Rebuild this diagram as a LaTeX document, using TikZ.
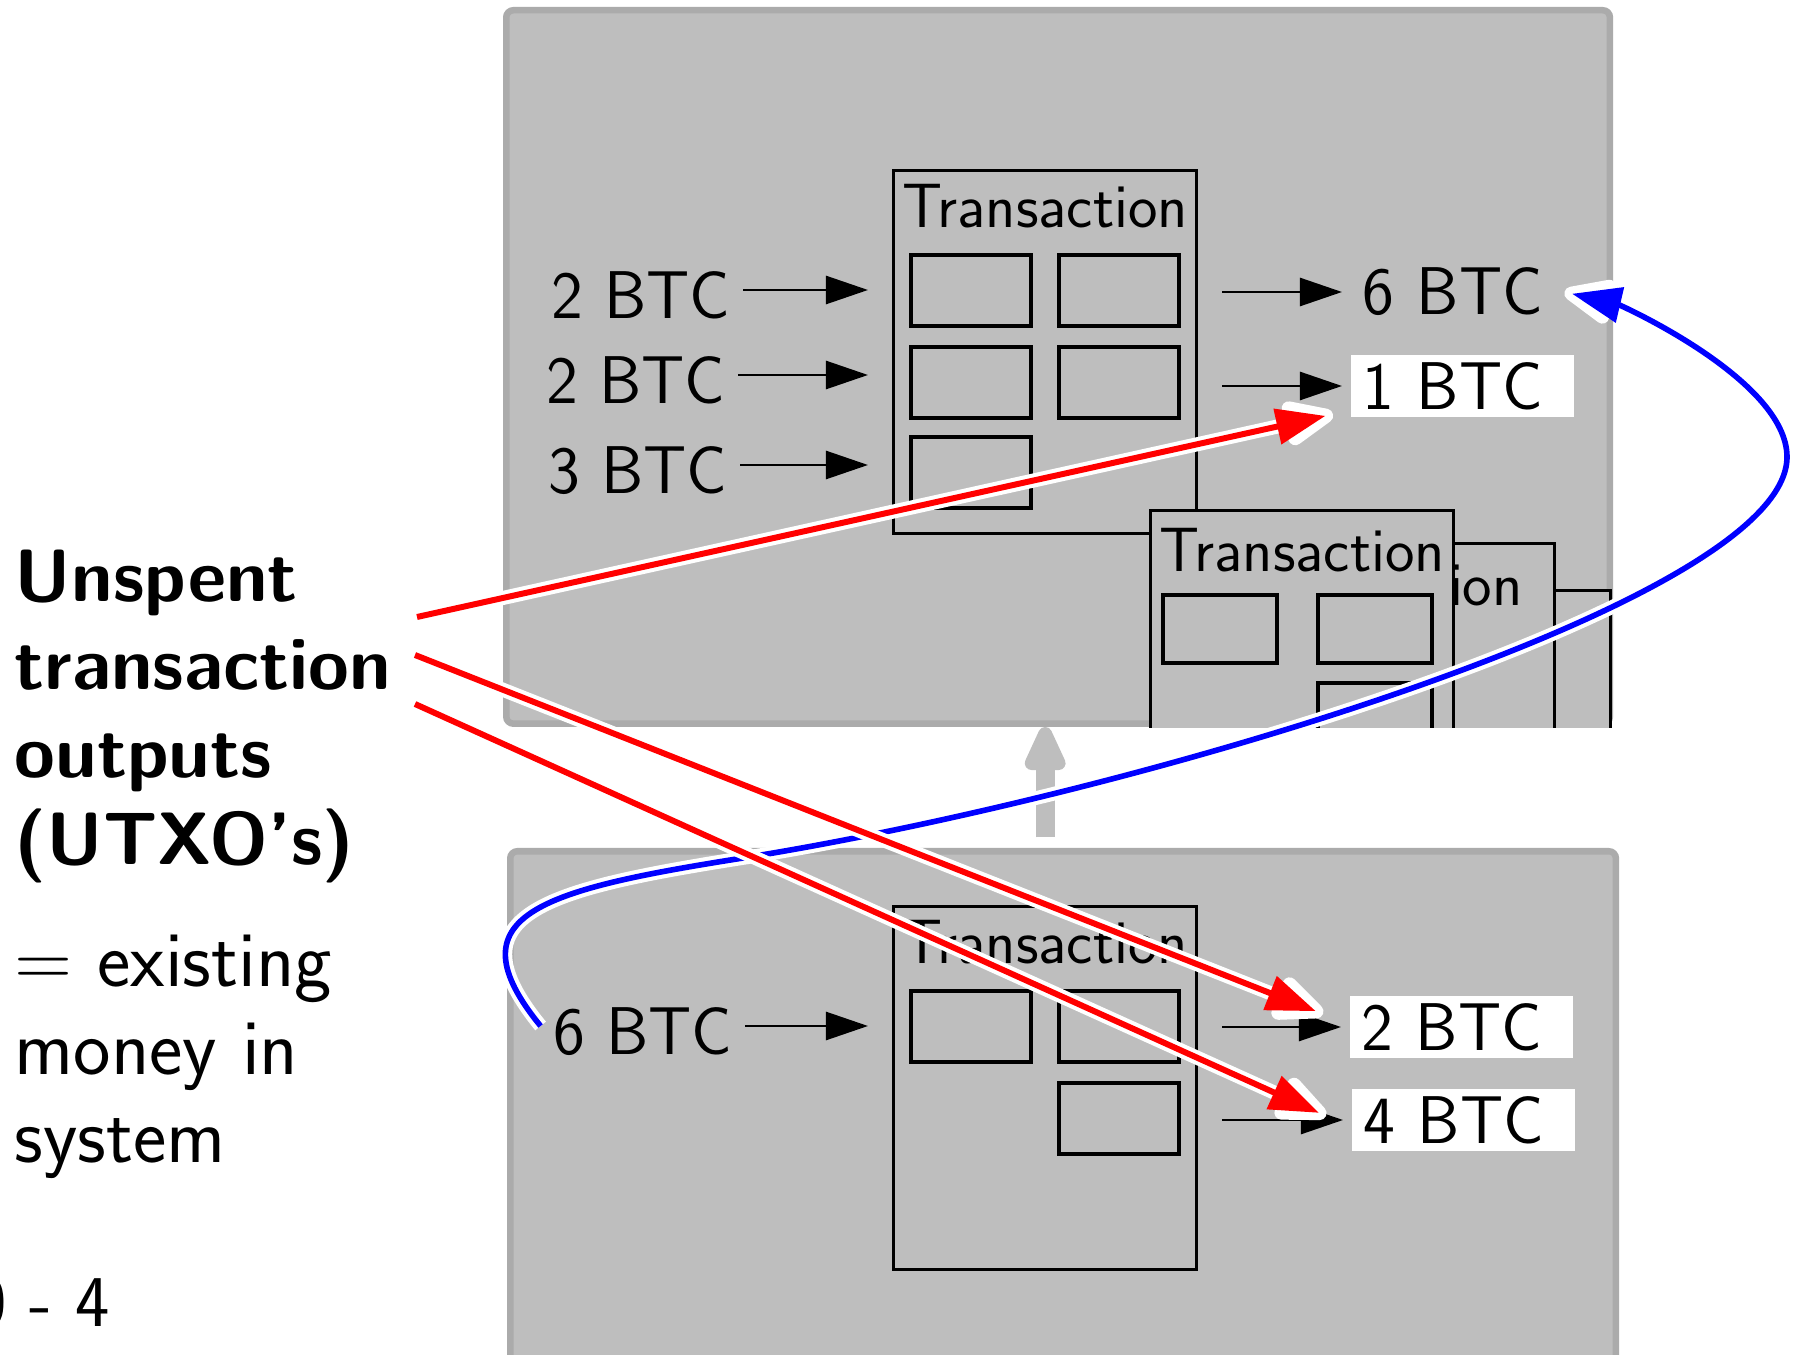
\documentclass[tikz,border=0pt]{standalone}
\usepackage{tikz}
\usetikzlibrary{arrows.meta, positioning}
\definecolor{bloque}{RGB}{190,190,190}
\definecolor{bordebloque}{RGB}{171,171,171}

\tikzset{
  bloque/.style={draw=bordebloque, fill=bloque, line width=1.85pt, rounded corners=2pt, inner sep=0, anchor=north west},
  txbox/.style={draw, fill=bloque, line width=0.9pt, inner sep=0, minimum width=3.03cm, minimum height=3.63cm, anchor=north west},
  celda/.style={draw, line width=0.9pt},
  txlabel/.style={font=\sffamily\fontsize{17.8}{21}\selectfont, inner sep=0},
  btcin/.style={font=\sffamily\fontsize{19.2}{23}\selectfont, inner sep=0.12cm, text height=0.56cm, text depth=0pt, anchor=east},
  btcout/.style={font=\sffamily\fontsize{19.2}{23}\selectfont, inner xsep=0.12cm, inner ysep=0, text width=1.99cm, align=left, minimum height=0.61cm, anchor=west},
  btcbox/.style={btcout, fill=white},
  flujo/.style={line width=0.75pt, -{Triangle[length=12pt,width=8pt]}},
  cadena/.style={draw=bloque, line width=5.5pt, -{Triangle[length=15.5pt,width=12.5pt,round]}, shorten <=0.107cm},
  gastable/.style={draw=red, line width=1.7pt, shorten >=2.2pt, -{Triangle[length=14pt,width=10pt]},
    preaction={draw=white, line width=4pt, shorten >=0pt, -{Triangle[length=17.5pt,width=13.5pt,round]}}},
  gastado/.style={draw=blue, line width=1.6pt, shorten >=2.2pt, -{Triangle[length=14pt,width=10pt]},
    preaction={draw=white, line width=3.9pt, shorten >=0pt, -{Triangle[length=17.5pt,width=13.5pt,round]}}},
  titulo/.style={anchor=north west, align=left, inner sep=0, font=\sffamily\bfseries\fontsize{21.1}{25}\selectfont},
  nota/.style={anchor=north west, align=left, inner sep=0, font=\sffamily\fontsize{22.6}{25}\selectfont}
}

\begin{document}
\begin{tikzpicture}[x=0.01cm, y=-0.01cm]
  \useasboundingbox (0,0) rectangle (1793,1355);

  % Bloques de la cadena
  \node[bloque, minimum width=11.03cm, minimum height=7.13cm] (blk1) at (503,7) {};
  \node[bloque, minimum width=11.05cm, minimum height=6cm] (blk2) at (507,848) {};

  % Transaccion del bloque de arriba
  \node[txbox] (t1) at (892,169) {};
  \node[txlabel] (t1lab) at ([yshift=-0.37cm]t1.north) {Transaction};
  \foreach \cx/\cy in {19/86, 167/86, 19/178, 167/178, 19/268} {
    \draw[celda] ([shift={(\cx,\cy)}]t1.north west) rectangle ++(120,71);
  }

  % Transacciones apiladas (cortadas por el borde del bloque)
  \begin{scope}
    \clip (500,0) rectangle (1700,728);
    \node[txbox] (t2c) at (1306,589) {};
    \node[txbox] (t2b) at (1250,542) {};
    \node[txlabel, anchor=east] (t2blab) at ([xshift=-0.33cm, yshift=-0.42cm]t2b.north east) {Transaction};
    \node[txbox] (t2) at (1149,509) {};
    \node[txlabel] (t2lab) at ([yshift=-0.41cm]t2.north) {Transaction};
    \foreach \cx/\cy in {14/86, 169/86, 169/174} {
      \draw[celda] ([shift={(\cx,\cy)}]t2.north west) rectangle ++(114,68);
    }
  \end{scope}

  % Transaccion del bloque de abajo
  \node[txbox] (t3) at (892,905) {};
  \node[txlabel] (t3lab) at ([yshift=-0.37cm]t3.north) {Transaction};
  \foreach \cx/\cy in {19/86, 167/86, 167/178} {
    \draw[celda] ([shift={(\cx,\cy)}]t3.north west) rectangle ++(120,71);
  }

  % Entradas y salidas
  \node[btcin] (in1) at (743,290) {2 BTC};
  \node[btcin] (in2) at (738,375) {2 BTC};
  \node[btcin] (in3) at (740,465) {3 BTC};
  \node[btcin] (in4) at (745,1026) {6 BTC};
  \node[btcout] (out1) at (1350,292) {6 BTC};
  \node[btcbox] (out2) at (1350,386) {1 BTC};
  \node[btcbox] (out3) at (1349,1027) {2 BTC};
  \node[btcbox] (out4) at (1351,1120) {4 BTC};

  \foreach \n/\t in {in1/t1, in2/t1, in3/t1, in4/t3} {
    \draw[flujo, shorten >=0.24cm] (\n.east) -- (\n.east -| \t.west);
  }
  \foreach \n/\t in {out1/t1, out2/t1, out3/t3, out4/t3} {
    \draw[flujo, shorten <=0.24cm, shorten >=0.08cm] (\t.east |- \n.west) -- (\n.west);
  }

  % Flecha entre bloques
  \draw[cadena] (t3.north |- blk2.north) -- (t3.north |- blk1.south);

  % Texto de la izquierda
  \node[titulo] (utxo) at (14,549) {Unspent\\transaction\\outputs\\(UTXO's)};
  \node[nota] (dinero) at (14,934) {= existing\\money in\\system};
  \node[nota, anchor=base west, font=\sffamily\fontsize{20.74}{25}\selectfont] (pagina) at (-28,1326) {0 - 4};

  % Salida gastada
  \draw[gastado] (in4.west) .. controls (450,915) and (540,890) .. (743,858)
    .. controls (1143,794) and (1787,600) .. (1787,457)
    .. controls (1787,380) and (1620,305) .. ([xshift=-0.1cm]out1.east);

  % Salidas no gastadas
  \coordinate (r1) at (417,617);
  \coordinate (r2) at (415,655);
  \coordinate (r3) at (415,704);
  \draw[gastable] (r1) -- ([xshift=-0.17cm,yshift=0.03cm]out2.south west);
  \draw[gastable] (r2) -- ([xshift=-0.26cm,yshift=0.13cm]out3.west);
  \draw[gastable] (r3) -- ([xshift=-0.25cm,yshift=0.04cm]out4.west);
\end{tikzpicture}
\end{document}
